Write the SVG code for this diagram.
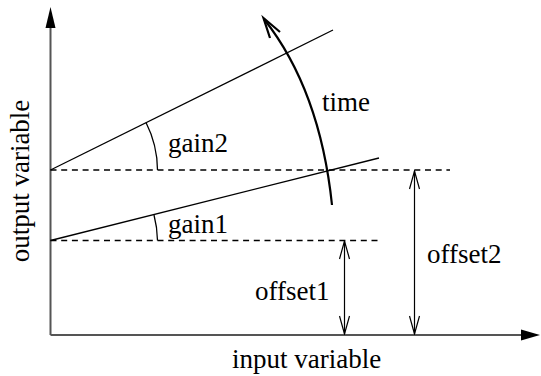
<svg xmlns="http://www.w3.org/2000/svg" width="541" height="376" viewBox="0 0 541 376">
<style>
.axis{stroke:#555;stroke-width:2;fill:none}
.line{stroke:#000;stroke-width:1.3;fill:none}
.dash{stroke:#000;stroke-width:1.3;stroke-dasharray:6 4.7;fill:none}
.dim{stroke:#000;stroke-width:1.2;fill:none}
.head{fill:#000;stroke:none}
text{font-family:'Liberation Serif','DejaVu Serif',serif;font-size:27px;fill:#000}
</style>
<defs>
<marker id="open" viewBox="0 0 20 12" refX="19" refY="6" markerWidth="20" markerHeight="12" markerUnits="userSpaceOnUse" orient="auto-start-reverse">
<path d="M1,1 L19,6 L1,11" fill="none" stroke="#000" stroke-width="1.2"/>
</marker>
</defs>
<g id="axes">
<line class="axis" x1="50.5" y1="335" x2="50.5" y2="26"/>
<path class="head" d="M50.5,7 L45.5,28 L55.5,28 Z"/>
<line class="axis" x1="50.5" y1="335" x2="524" y2="335"/>
<path class="head" d="M540,335 L521,329.5 L521,340.5 Z"/>
<text x="232" y="368" font-family="Liberation Serif, serif">input variable</text>
<text transform="translate(29,181) rotate(-90)" text-anchor="middle" font-family="Liberation Serif, serif">output variable</text>
</g>
<g id="connectors">
<line class="dash" x1="50.5" y1="170" x2="450" y2="170"/>
<line class="dash" x1="50.5" y1="240.5" x2="380" y2="240.5"/>
<line class="line" x1="50.5" y1="170" x2="333" y2="30"/>
<line class="line" x1="50.5" y1="240.5" x2="379" y2="158"/>
<path class="line" d="M157.5,170 A107,107 0 0 0 146,122.5"/>
<path class="line" d="M157.5,240.5 A107,107 0 0 0 154,215"/>
<path d="M332,205 Q320,90 264,19" fill="none" stroke="#000" stroke-width="2.2"/>
<path d="M280,32 L263.5,18 L270,38" fill="none" stroke="#000" stroke-width="2.2"/>
<line class="dim" x1="344.5" y1="241" x2="344.5" y2="334" marker-start="url(#open)" marker-end="url(#open)"/>
<line class="dim" x1="414.5" y1="171" x2="414.5" y2="334" marker-start="url(#open)" marker-end="url(#open)"/>
</g>
<g id="gain2"><text x="168" y="152" font-family="Liberation Serif, serif">gain2</text></g>
<g id="gain1"><text x="168" y="233" font-family="Liberation Serif, serif">gain1</text></g>
<g id="time"><text x="322" y="111" font-family="Liberation Serif, serif">time</text></g>
<g id="offset1"><text x="255" y="300" font-family="Liberation Serif, serif">offset1</text></g>
<g id="offset2"><text x="427" y="263" font-family="Liberation Serif, serif">offset2</text></g>
</svg>
